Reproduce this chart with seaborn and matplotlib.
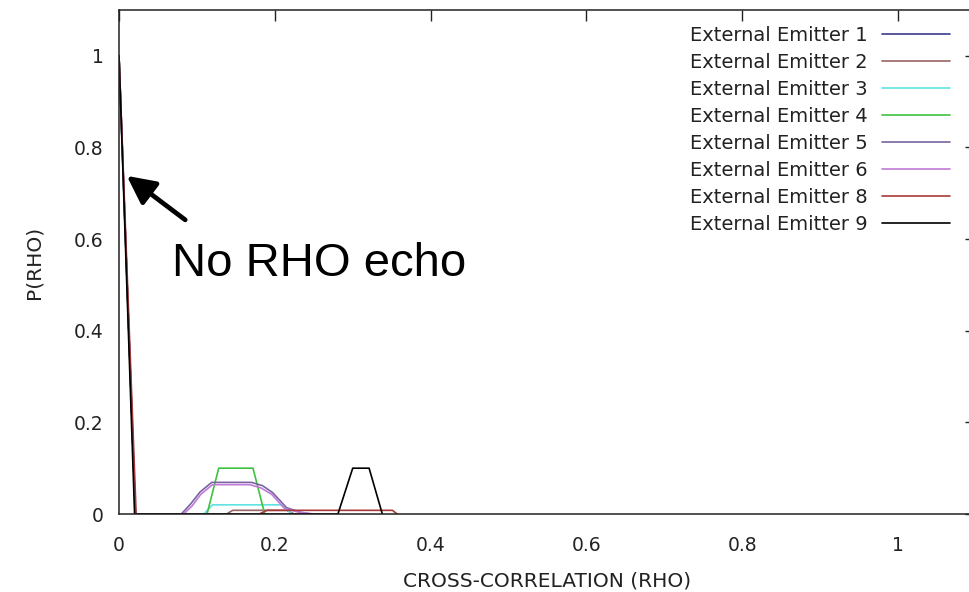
import numpy as np
import pandas as pd
import matplotlib
matplotlib.use("Agg")
import matplotlib.pyplot as plt
import seaborn as sns

# ---- data ----
series_names = ["External Emitter 1", "External Emitter 2", "External Emitter 3",
                "External Emitter 4", "External Emitter 5", "External Emitter 6",
                "External Emitter 8", "External Emitter 9"]

rho_e1 = [0.0, 0.021]
p_e1 = [1.0, 0.0]

rho_e2 = [0.0, 0.021, 0.138, 0.146, 0.215, 0.225]
p_e2 = [1.0, 0.0, 0.0, 0.008, 0.008, 0.0]

rho_e3 = [0.0, 0.021, 0.109, 0.120, 0.208, 0.222]
p_e3 = [1.0, 0.0, 0.0, 0.020, 0.020, 0.0]

rho_e4 = [0.0, 0.021, 0.113, 0.128, 0.172, 0.187]
p_e4 = [1.0, 0.0, 0.0, 0.10, 0.10, 0.0]

rho_e5 = [0.0, 0.021, 0.080, 0.092, 0.104, 0.119, 0.170, 0.184, 0.197, 0.215, 0.232, 0.245]
p_e5 = [1.0, 0.0, 0.0, 0.022, 0.048, 0.069, 0.069, 0.062, 0.047, 0.014, 0.004, 0.0]

rho_e6 = [0.0, 0.021, 0.083, 0.094, 0.105, 0.120, 0.168, 0.182, 0.196, 0.212, 0.228, 0.25]
p_e6 = [1.0, 0.0, 0.0, 0.018, 0.043, 0.064, 0.064, 0.057, 0.043, 0.013, 0.005, 0.0]

rho_e8 = [0.0, 0.022, 0.18, 0.19, 0.351, 0.357]
p_e8 = [1.0, 0.0, 0.0, 0.008, 0.008, 0.0]

rho_e9 = [0.0, 0.020, 0.281, 0.300, 0.321, 0.338]
p_e9 = [1.0, 0.0, 0.0, 0.10, 0.10, 0.0]

x_ticks = [0, 0.2, 0.4, 0.6, 0.8, 1]
x_tick_labels = ["0", "0.2", "0.4", "0.6", "0.8", "1"]
y_ticks = [0, 0.2, 0.4, 0.6, 0.8, 1]
y_tick_labels = ["0", "0.2", "0.4", "0.6", "0.8", "1"]

colors = ["#3c3c8e", "#9a6464", "#5fe3e3", "#3fc23f",
          "#7a64a0", "#c07ad8", "#a83838", "#000000"]

all_rho = [rho_e1, rho_e2, rho_e3, rho_e4, rho_e5, rho_e6, rho_e8, rho_e9]
all_p = [p_e1, p_e2, p_e3, p_e4, p_e5, p_e6, p_e8, p_e9]

frames = []
for name, r, p in zip(series_names, all_rho, all_p):
    frames.append(pd.DataFrame({"rho": r, "P": p, "series": name}))
df = pd.concat(frames, ignore_index=True)

# ---- style ----
sns.set_theme(style="white")
plt.rcParams["font.family"] = ["DejaVu Sans"]

fig = plt.figure(figsize=(9.70, 5.92), dpi=100)
ax = fig.add_axes([119 / 970, 78 / 592, 857 / 970, 504 / 592])

sns.lineplot(data=df, x="rho", y="P", hue="series", hue_order=series_names,
             palette=dict(zip(series_names, colors)), estimator=None,
             sort=False, units="series", linewidth=1.2, ax=ax, legend=True)

ax.set_xlim(0, 1.1)
ax.set_ylim(0, 1.1)
ax.set_xticks(x_ticks)
ax.set_xticklabels(x_tick_labels)
ax.set_yticks(y_ticks)
ax.set_yticklabels(y_tick_labels)

for s in ax.spines.values():
    s.set_color("#222222")
    s.set_linewidth(1.1)
    s.set_visible(True)

ax.tick_params(axis="both", which="major", direction="in", length=8, width=1.0,
               color="#222222", top=True, right=True, labelsize=13.5,
               labelcolor="#222222")
ax.tick_params(axis="x", pad=16)
ax.tick_params(axis="y", pad=11)

ax.set_xlabel("CROSS-CORRELATION (RHO)", fontsize=14.5, color="#222222")
ax.set_ylabel("P(RHO)", fontsize=14.5, color="#222222")
ax.xaxis.set_label_coords(0.5, -0.115)
ax.yaxis.set_label_coords(-0.088, 0.5)

handles, labels = ax.get_legend_handles_labels()
ax.get_legend().remove()
leg = fig.legend(handles, labels, loc="upper right",
                 bbox_to_anchor=(950 / 970, 1 - 26 / 592), frameon=False,
                 markerfirst=False, fontsize=14, handlelength=3.5,
                 handletextpad=0.75, labelspacing=0.41, borderpad=0,
                 borderaxespad=0)
for t in leg.get_texts():
    t.set_color("#222222")

ax.annotate("", xy=(0.010, 0.738), xytext=(0.085, 0.642),
            arrowprops=dict(arrowstyle="-|>,head_length=1.0,head_width=0.5",
                            mutation_scale=17, lw=3.4, color="black",
                            shrinkA=0, shrinkB=0))
ax.text(0.068, 0.52, "No RHO echo", fontsize=34, family=["Liberation Sans"],
        ha="left", va="baseline", color="black")

fig.savefig("out.png", dpi=100)
